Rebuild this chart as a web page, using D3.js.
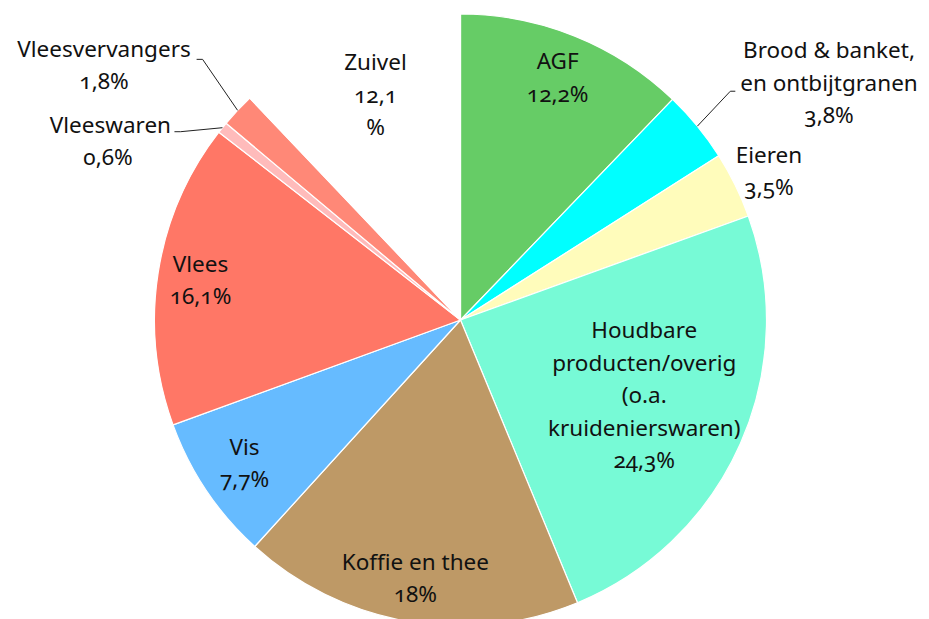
<!DOCTYPE html>
<html><head><meta charset="utf-8">
<script src="https://cdn.jsdelivr.net/npm/d3@7"></script>
<style>
body{margin:0;background:#fff;}
text{font-family:"Noto Sans",sans-serif;font-size:22.5px;fill:#111;font-variant-numeric:oldstyle-nums;}
</style></head><body>
<svg id="c" width="929" height="619"></svg>
<script>
const categories = ["AGF","Brood & banket, en ontbijtgranen","Eieren","Houdbare producten/overig (o.a. kruidenierswaren)","Koffie en thee","Vis","Vlees","Vleeswaren","Vleesvervangers","Zuivel"];
const values = [12.2,3.8,3.5,24.3,18,7.7,16.1,0.6,1.8,12.1];
const valueLabels = ["12,2%","3,8%","3,5%","24,3%","18%","7,7%","16,1%","0,6%","1,8%","12,1 %"];
const colors = ["#66cc66","#00ffff","#fffcbb","#77fad6","#be9966","#66bbff","#ff7766","#ffbbbb","#ff8877","#ffffff"];

// label text split into lines
const labelLines = [
  ["AGF","12,2%"],
  ["Brood & banket,","en ontbijtgranen","3,8%"],
  ["Eieren","3,5%"],
  ["Houdbare","producten/overig","(o.a.","kruidenierswaren)","24,3%"],
  ["Koffie en thee","18%"],
  ["Vis","7,7%"],
  ["Vlees","16,1%"],
  ["Vleeswaren","0,6%"],
  ["Vleesvervangers","1,8%"],
  ["Zuivel","12,1","%"]
];

const svg = d3.select("#c");
const cx = 460.5, cy = 320, R = 306;
const g = svg.append("g").attr("transform",`translate(${cx},${cy})`);
const pie = d3.pie().sort(null).value(d=>d)(values);
const arc = d3.arc().innerRadius(0).outerRadius(R);
g.selectAll("path.s").data(pie).join("path").attr("class","s")
  .attr("d",arc).attr("fill",(d,i)=>colors[i]).attr("stroke","#fff").attr("stroke-width",1.2).attr("stroke-linejoin","round");

const lh = 32.5;
function place(i, x, y, anchor){
  const lines = labelLines[i];
  const t = g.append("text").attr("text-anchor",anchor||"middle");
  lines.forEach((l,k)=>{
    t.append("tspan").attr("x",x).attr("y",y + k*lh - (lines.length-1)*lh/2).attr("dy","0.35em").text(l);
  });
}
// inner label placement: [radius factor, dx, dy]
const inner = {0:[0.85,0,-1],3:[0.66,-1,-6],4:[0.86,0,-1],5:[0.85,0,-2],6:[0.86,0,1],9:[0.82,8,8]};
pie.forEach((d,i)=>{
  if(inner[i]!==undefined){
    const a = (d.startAngle+d.endAngle)/2, r = R*inner[i][0];
    place(i, r*Math.sin(a)+inner[i][1], -r*Math.cos(a)+inner[i][2]);
  }
});
// outside labels with leaders
function edge(i){const d=pie[i];const a=(d.startAngle+d.endAngle)/2;return [R*Math.sin(a),-R*Math.cos(a)];}
const line = d3.line();
// Brood
let e = edge(1);
g.append("path").attr("d",line([e,[e[0]+33,e[1]-35],[e[0]+38,e[1]-35]])).attr("fill","none").attr("stroke","#222").attr("stroke-width",1);
place(1, 829-cx, 83-cy);
// Eieren
place(2, 769-cx, 171-cy);
// Vleeswaren
e = edge(7);
g.append("path").attr("d",line([e,[e[0]-42,e[1]+4],[e[0]-48,e[1]+4]])).attr("fill","none").attr("stroke","#222").attr("stroke-width",1);
g.append("text").attr("text-anchor","end").attr("x",171-cx).attr("y",125-cy).attr("dy","0.35em").text(labelLines[7][0]);
g.append("text").attr("text-anchor","middle").attr("x",108-cx).attr("y",157-cy).attr("dy","0.35em").text(labelLines[7][1]);
// Vleesvervangers
e = edge(8);
g.append("path").attr("d",line([e,[e[0]-35,e[1]-51],[e[0]-41,e[1]-51]])).attr("fill","none").attr("stroke","#222").attr("stroke-width",1);
place(8, 104-cx, 65-cy);
</script></body></html>
